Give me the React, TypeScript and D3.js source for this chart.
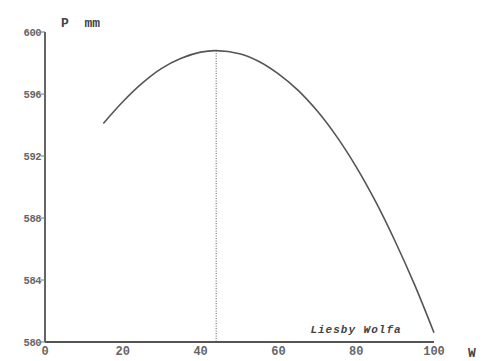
import React from "react";
import * as d3 from "d3";

const xValues = [15, 20, 25, 30, 35, 40, 44, 50, 55, 60, 65, 70, 75, 80, 85, 90, 95, 100];
const yValues = [594.1, 595.5, 596.7, 597.65, 598.3, 598.7, 598.8, 598.6, 598.1, 597.3, 596.25, 594.9, 593.25, 591.3, 589.05, 586.5, 583.7, 580.6];
const xTicks = [0, 20, 40, 60, 80, 100];
const yTicks = [580, 584, 588, 592, 596, 600];
const peakX = 44;
const peakY = 598.8;

export default function App() {
  const W = 487, H = 361;
  const x = d3.scaleLinear().domain([0, 100]).range([45, 434]);
  const y = d3.scaleLinear().domain([580, 600]).range([342, 32]);
  const line = d3.line<number>().x((_, i) => x(xValues[i])).y(d => y(d)).curve(d3.curveCatmullRom);
  const font = "'Liberation Mono', 'DejaVu Sans Mono', monospace";
  return (
    <svg width={W} height={H} style={{ position: "absolute", left: 0, top: 0, background: "#fff" }}>
      <rect width={W} height={H} fill="#fff" />
      <line x1={x(0)} x2={x(0)} y1={y(600)} y2={y(580)} stroke="#555" strokeWidth={1.8} />
      <line x1={x(0)} x2={x(100)} y1={y(580)} y2={y(580)} stroke="#555" strokeWidth={1.8} />
      {yTicks.map(t => (
        <g key={t}>
          <line x1={x(0) - 4} x2={x(0)} y1={y(t)} y2={y(t)} stroke="#777" strokeWidth={1} />
          <text x={x(0) - 4} y={y(t)} dy="0.35em" textAnchor="end" fontFamily={font} fontWeight="bold" fontSize={10.5} fill="#666" letterSpacing={-0.5}>{t}</text>
        </g>
      ))}
      {xTicks.map(t => (
        <text key={t} x={x(t)} y={355} textAnchor="middle" fontFamily={font} fontWeight="bold" fontSize={12} fill="#666">{t}</text>
      ))}
      <text x={61} y={27} fontFamily={font} fontWeight="bold" fontSize={13} fill="#444" xmlSpace="preserve">P  mm</text>
      <text x={468} y={357} fontFamily={font} fontWeight="bold" fontSize={13} fill="#444">W</text>
      <text x={356} y={333} textAnchor="middle" fontFamily={font} fontWeight="bold" fontStyle="italic" fontSize={11} letterSpacing={1} fill="#444">Liesby Wolfa</text>
      <line x1={x(peakX)} x2={x(peakX)} y1={y(peakY)} y2={y(580)} stroke="#555" strokeWidth={1} strokeDasharray="1,1.5" />
      <path d={line(yValues) || ""} fill="none" stroke="#555" strokeWidth={1.6} />
    </svg>
  );
}
